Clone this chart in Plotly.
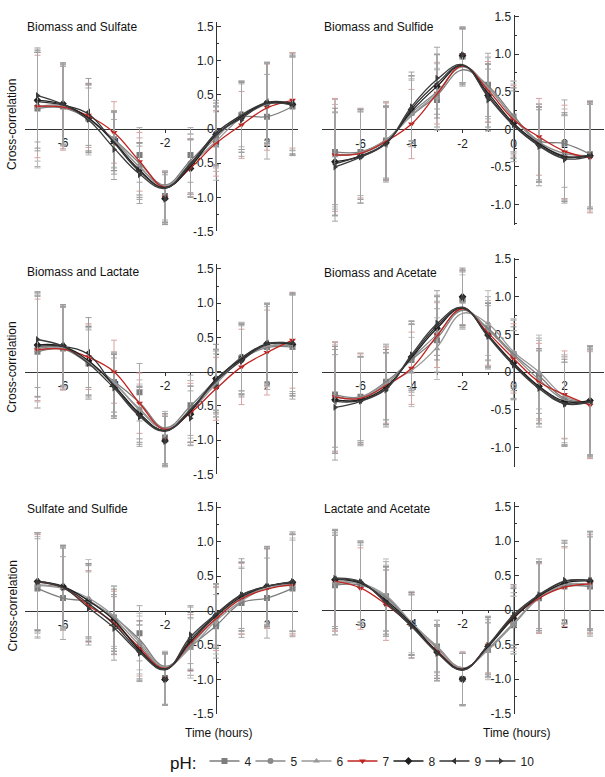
import plotly.graph_objects as go

W, H = 605, 777

LAGS = [-7, -6, -5, -4, -3, -2, -1, 0, 1, 2, 3]
PH_LABELS = ["4", "5", "6", "7", "8", "9", "10"]
X_TICKS = [-6, -4, -2, 0, 2]
X_TICKTEXT = ["-6", "-4", "-2", "0", "2"]
Y_TICKS = [-1.5, -1.0, -0.5, 0, 0.5, 1.0, 1.5]
Y_TICKTEXT = ["-1.5", "-1.0", "-0.5", "0", "0.5", "1.0", "1.5"]

# ---------------- Biomass and Sulfate ----------------
BIO_SO4_VAL = [
    [0.30, 0.33, 0.15, -0.15, -0.38, -0.98, -0.38, -0.12, 0.20, 0.18, 0.33],
    [0.33, 0.35, 0.16, -0.17, -0.55, -0.99, -0.50, -0.15, 0.22, 0.38, 0.37],
    [0.31, 0.34, 0.14, -0.16, -0.58, -0.97, -0.52, -0.25, 0.18, 0.37, 0.38],
    [0.33, 0.32, 0.20, -0.05, -0.48, -1.00, -0.55, -0.21, 0.06, 0.32, 0.42],
    [0.42, 0.37, 0.16, -0.18, -0.60, -1.02, -0.58, -0.08, 0.17, 0.38, 0.36],
    [0.40, 0.35, 0.25, -0.20, -0.62, -1.00, -0.55, -0.05, 0.20, 0.40, 0.38],
    [0.49, 0.36, 0.14, -0.30, -0.67, -1.03, -0.57, -0.10, 0.13, 0.37, 0.35],
]
BIO_SO4_FIT = [
    [0.30, 0.31, 0.14, -0.15, -0.50, -0.82, -0.46, -0.10, 0.17, 0.18, 0.33],
    [0.33, 0.34, 0.16, -0.17, -0.55, -0.84, -0.50, -0.13, 0.21, 0.37, 0.37],
    [0.31, 0.33, 0.14, -0.16, -0.56, -0.83, -0.52, -0.18, 0.17, 0.36, 0.38],
    [0.33, 0.32, 0.19, -0.05, -0.47, -0.85, -0.57, -0.21, 0.06, 0.31, 0.42],
    [0.42, 0.36, 0.16, -0.19, -0.60, -0.86, -0.55, -0.09, 0.18, 0.38, 0.36],
    [0.40, 0.35, 0.22, -0.20, -0.62, -0.86, -0.52, -0.06, 0.20, 0.39, 0.38],
    [0.49, 0.36, 0.13, -0.28, -0.66, -0.87, -0.50, -0.08, 0.16, 0.37, 0.35],
]
BIO_SO4_ERR = [
    [0.85, 0.62, 0.50, 0.42, 0.40, 0.37, 0.40, 0.45, 0.50, 0.62, 0.72],
    [0.80, 0.60, 0.48, 0.44, 0.42, 0.38, 0.43, 0.47, 0.48, 0.58, 0.75],
    [0.88, 0.58, 0.52, 0.40, 0.38, 0.36, 0.44, 0.50, 0.52, 0.60, 0.70],
    [0.75, 0.63, 0.47, 0.45, 0.43, 0.37, 0.41, 0.48, 0.49, 0.63, 0.70],
    [0.70, 0.60, 0.50, 0.43, 0.40, 0.38, 0.42, 0.46, 0.51, 0.59, 0.74],
    [0.72, 0.57, 0.49, 0.46, 0.41, 0.37, 0.40, 0.47, 0.50, 0.57, 0.69],
    [0.68, 0.59, 0.46, 0.44, 0.42, 0.36, 0.42, 0.44, 0.53, 0.61, 0.71],
]

# ---------------- Biomass and Sulfide ----------------
BIO_HS_VAL = [
    [-0.30, -0.30, -0.15, 0.22, 0.39, 0.97, 0.59, 0.17, -0.17, -0.19, -0.33],
    [-0.33, -0.33, -0.17, 0.24, 0.45, 0.96, 0.55, 0.15, -0.18, -0.33, -0.35],
    [-0.35, -0.31, -0.14, 0.21, 0.42, 0.95, 0.52, 0.16, -0.20, -0.36, -0.36],
    [-0.34, -0.32, -0.16, 0.07, 0.48, 0.99, 0.50, 0.12, -0.10, -0.30, -0.38],
    [-0.43, -0.36, -0.18, 0.26, 0.57, 0.98, 0.45, 0.08, -0.20, -0.37, -0.35],
    [-0.46, -0.35, -0.20, 0.28, 0.60, 0.97, 0.42, 0.07, -0.22, -0.38, -0.34],
    [-0.50, -0.37, -0.19, 0.30, 0.68, 0.99, 0.39, 0.06, -0.23, -0.40, -0.36],
]
BIO_HS_FIT = [
    [-0.30, -0.30, -0.14, 0.18, 0.45, 0.79, 0.58, 0.18, -0.15, -0.19, -0.33],
    [-0.33, -0.32, -0.16, 0.22, 0.50, 0.83, 0.56, 0.15, -0.17, -0.32, -0.35],
    [-0.35, -0.31, -0.14, 0.19, 0.48, 0.84, 0.55, 0.15, -0.19, -0.35, -0.36],
    [-0.34, -0.32, -0.16, 0.07, 0.47, 0.84, 0.52, 0.13, -0.10, -0.29, -0.38],
    [-0.43, -0.36, -0.18, 0.24, 0.57, 0.85, 0.48, 0.08, -0.19, -0.36, -0.35],
    [-0.46, -0.35, -0.19, 0.27, 0.61, 0.85, 0.45, 0.06, -0.21, -0.37, -0.34],
    [-0.50, -0.37, -0.19, 0.30, 0.66, 0.86, 0.43, 0.05, -0.22, -0.39, -0.36],
]
BIO_HS_ERR = [
    [0.70, 0.58, 0.50, 0.45, 0.40, 0.36, 0.42, 0.47, 0.50, 0.58, 0.70],
    [0.73, 0.60, 0.48, 0.47, 0.42, 0.37, 0.41, 0.45, 0.52, 0.60, 0.72],
    [0.68, 0.57, 0.51, 0.44, 0.39, 0.38, 0.43, 0.48, 0.49, 0.56, 0.74],
    [0.75, 0.59, 0.52, 0.46, 0.41, 0.37, 0.40, 0.46, 0.51, 0.62, 0.73],
    [0.71, 0.62, 0.49, 0.45, 0.42, 0.36, 0.42, 0.47, 0.50, 0.59, 0.70],
    [0.69, 0.58, 0.50, 0.43, 0.40, 0.38, 0.44, 0.44, 0.48, 0.57, 0.71],
    [0.72, 0.61, 0.48, 0.46, 0.41, 0.37, 0.41, 0.49, 0.52, 0.58, 0.69],
]

# ---------------- Biomass and Lactate ----------------
BIO_LAC_VAL = [
    [0.29, 0.34, 0.12, -0.15, -0.30, -0.96, -0.49, -0.12, 0.20, 0.36, 0.36],
    [0.34, 0.36, 0.15, -0.18, -0.55, -0.98, -0.55, -0.15, 0.22, 0.38, 0.38],
    [0.31, 0.35, 0.14, -0.16, -0.58, -0.97, -0.58, -0.18, 0.18, 0.37, 0.40],
    [0.32, 0.34, 0.22, 0.00, -0.46, -1.00, -0.60, -0.25, 0.07, 0.28, 0.46],
    [0.39, 0.38, 0.16, -0.20, -0.62, -1.01, -0.62, -0.10, 0.18, 0.41, 0.40],
    [0.37, 0.38, 0.28, -0.21, -0.64, -0.99, -0.64, -0.12, 0.21, 0.42, 0.41],
    [0.47, 0.37, 0.12, -0.24, -0.66, -1.02, -0.68, -0.20, 0.15, 0.40, 0.42],
]
BIO_LAC_FIT = [
    [0.29, 0.33, 0.12, -0.14, -0.45, -0.82, -0.50, -0.12, 0.19, 0.35, 0.36],
    [0.34, 0.35, 0.15, -0.17, -0.54, -0.84, -0.55, -0.15, 0.21, 0.37, 0.38],
    [0.31, 0.34, 0.14, -0.15, -0.56, -0.83, -0.57, -0.18, 0.18, 0.37, 0.40],
    [0.32, 0.33, 0.21, 0.00, -0.46, -0.84, -0.60, -0.25, 0.07, 0.28, 0.46],
    [0.39, 0.37, 0.16, -0.20, -0.61, -0.86, -0.58, -0.11, 0.18, 0.40, 0.40],
    [0.37, 0.37, 0.25, -0.21, -0.63, -0.86, -0.56, -0.12, 0.20, 0.41, 0.41],
    [0.47, 0.37, 0.12, -0.24, -0.65, -0.87, -0.55, -0.14, 0.16, 0.40, 0.42],
]
BIO_LAC_ERR = [
    [0.82, 0.60, 0.52, 0.44, 0.42, 0.38, 0.44, 0.45, 0.52, 0.62, 0.76],
    [0.78, 0.62, 0.50, 0.46, 0.43, 0.37, 0.42, 0.47, 0.50, 0.60, 0.74],
    [0.84, 0.59, 0.54, 0.43, 0.40, 0.39, 0.45, 0.48, 0.53, 0.58, 0.72],
    [0.74, 0.61, 0.48, 0.46, 0.44, 0.38, 0.43, 0.46, 0.55, 0.62, 0.70],
    [0.76, 0.58, 0.50, 0.45, 0.41, 0.36, 0.41, 0.50, 0.51, 0.59, 0.75],
    [0.73, 0.60, 0.51, 0.47, 0.42, 0.38, 0.43, 0.44, 0.49, 0.57, 0.73],
    [0.70, 0.57, 0.49, 0.44, 0.43, 0.37, 0.40, 0.46, 0.52, 0.60, 0.71],
]

# ---------------- Biomass and Acetate ----------------
BIO_ACE_VAL = [
    [-0.30, -0.33, -0.13, 0.16, 0.42, 0.96, 0.58, 0.24, -0.05, -0.37, -0.40],
    [-0.33, -0.35, -0.16, 0.18, 0.50, 0.95, 0.55, 0.22, -0.10, -0.38, -0.41],
    [-0.32, -0.34, -0.15, 0.00, 0.31, 0.93, 0.65, 0.27, 0.00, -0.33, -0.42],
    [-0.33, -0.36, -0.18, 0.05, 0.49, 0.99, 0.50, 0.18, -0.13, -0.30, -0.44],
    [-0.37, -0.37, -0.20, 0.20, 0.58, 1.00, 0.49, 0.12, -0.19, -0.40, -0.38],
    [-0.39, -0.38, -0.22, 0.21, 0.62, 0.98, 0.48, 0.10, -0.20, -0.42, -0.39],
    [-0.47, -0.39, -0.24, 0.23, 0.65, 0.99, 0.47, 0.09, -0.22, -0.43, -0.40],
]
BIO_ACE_FIT = [
    [-0.30, -0.33, -0.13, 0.16, 0.45, 0.82, 0.58, 0.24, -0.05, -0.35, -0.40],
    [-0.33, -0.35, -0.16, 0.18, 0.50, 0.83, 0.56, 0.22, -0.10, -0.37, -0.41],
    [-0.32, -0.34, -0.15, 0.02, 0.33, 0.78, 0.64, 0.27, 0.00, -0.32, -0.42],
    [-0.33, -0.35, -0.18, 0.05, 0.48, 0.84, 0.52, 0.18, -0.13, -0.30, -0.44],
    [-0.37, -0.37, -0.20, 0.19, 0.58, 0.85, 0.49, 0.12, -0.19, -0.39, -0.38],
    [-0.39, -0.38, -0.22, 0.21, 0.61, 0.85, 0.48, 0.10, -0.20, -0.41, -0.39],
    [-0.47, -0.39, -0.23, 0.23, 0.64, 0.86, 0.47, 0.09, -0.22, -0.42, -0.40],
]
BIO_ACE_ERR = [
    [0.70, 0.58, 0.50, 0.47, 0.42, 0.37, 0.42, 0.45, 0.50, 0.57, 0.72],
    [0.72, 0.56, 0.52, 0.45, 0.44, 0.38, 0.40, 0.47, 0.52, 0.59, 0.70],
    [0.68, 0.59, 0.49, 0.46, 0.41, 0.36, 0.43, 0.44, 0.49, 0.56, 0.73],
    [0.73, 0.60, 0.51, 0.48, 0.43, 0.37, 0.41, 0.46, 0.51, 0.58, 0.71],
    [0.71, 0.57, 0.50, 0.44, 0.42, 0.38, 0.42, 0.48, 0.50, 0.57, 0.72],
    [0.69, 0.58, 0.48, 0.46, 0.40, 0.37, 0.44, 0.45, 0.48, 0.55, 0.74],
    [0.70, 0.59, 0.49, 0.45, 0.43, 0.36, 0.41, 0.46, 0.51, 0.56, 0.70],
]

# ---------------- Sulfate and Sulfide ----------------
SO4_HS_VAL = [
    [0.32, 0.18, 0.12, -0.10, -0.33, -0.98, -0.52, -0.23, 0.11, 0.18, 0.32],
    [0.37, 0.33, 0.15, -0.12, -0.50, -0.99, -0.50, -0.10, 0.18, 0.34, 0.38],
    [0.36, 0.32, 0.18, -0.08, -0.45, -0.98, -0.55, -0.15, 0.14, 0.33, 0.36],
    [0.41, 0.33, 0.06, -0.18, -0.55, -0.99, -0.47, -0.12, 0.17, 0.32, 0.37],
    [0.42, 0.35, 0.14, -0.14, -0.58, -1.00, -0.45, -0.08, 0.20, 0.35, 0.41],
    [0.42, 0.34, 0.10, -0.20, -0.60, -0.99, -0.40, -0.06, 0.22, 0.35, 0.40],
    [0.41, 0.33, 0.03, -0.26, -0.62, -1.00, -0.35, -0.07, 0.23, 0.35, 0.42],
]
SO4_HS_FIT = [
    [0.32, 0.18, 0.12, -0.10, -0.42, -0.81, -0.52, -0.22, 0.11, 0.18, 0.32],
    [0.37, 0.33, 0.15, -0.12, -0.50, -0.83, -0.50, -0.11, 0.18, 0.33, 0.38],
    [0.36, 0.32, 0.18, -0.08, -0.46, -0.82, -0.54, -0.15, 0.14, 0.33, 0.36],
    [0.41, 0.33, 0.07, -0.18, -0.54, -0.84, -0.47, -0.12, 0.17, 0.31, 0.37],
    [0.42, 0.35, 0.14, -0.14, -0.57, -0.85, -0.45, -0.08, 0.20, 0.35, 0.41],
    [0.42, 0.34, 0.10, -0.20, -0.59, -0.85, -0.42, -0.06, 0.22, 0.35, 0.40],
    [0.41, 0.33, 0.04, -0.25, -0.61, -0.86, -0.38, -0.05, 0.23, 0.35, 0.42],
]
SO4_HS_ERR = [
    [0.72, 0.60, 0.55, 0.45, 0.40, 0.38, 0.42, 0.46, 0.50, 0.58, 0.70],
    [0.70, 0.62, 0.53, 0.47, 0.42, 0.37, 0.44, 0.45, 0.52, 0.56, 0.72],
    [0.74, 0.58, 0.56, 0.44, 0.41, 0.39, 0.43, 0.48, 0.49, 0.59, 0.69],
    [0.69, 0.61, 0.52, 0.46, 0.40, 0.38, 0.41, 0.46, 0.51, 0.57, 0.73],
    [0.71, 0.59, 0.54, 0.45, 0.43, 0.37, 0.42, 0.47, 0.50, 0.58, 0.71],
    [0.70, 0.57, 0.55, 0.43, 0.39, 0.38, 0.45, 0.44, 0.48, 0.55, 0.70],
    [0.72, 0.60, 0.53, 0.46, 0.41, 0.37, 0.42, 0.46, 0.52, 0.57, 0.72],
]

# ---------------- Lactate and Acetate ----------------
LAC_ACE_VAL = [
    [0.36, 0.36, 0.20, -0.20, -0.53, -1.00, -0.58, -0.22, 0.17, 0.34, 0.34],
    [0.38, 0.38, 0.17, -0.19, -0.55, -1.00, -0.56, -0.19, 0.18, 0.36, 0.36],
    [0.40, 0.40, 0.22, -0.18, -0.52, -0.99, -0.60, -0.20, 0.19, 0.38, 0.37],
    [0.42, 0.31, 0.07, -0.22, -0.60, -1.00, -0.51, -0.10, 0.17, 0.33, 0.38],
    [0.44, 0.39, 0.14, -0.20, -0.61, -1.00, -0.53, -0.12, 0.20, 0.39, 0.42],
    [0.45, 0.40, 0.12, -0.22, -0.62, -1.01, -0.52, -0.09, 0.21, 0.41, 0.43],
    [0.46, 0.41, 0.10, -0.24, -0.63, -1.00, -0.51, -0.07, 0.22, 0.43, 0.43],
]
LAC_ACE_FIT = [
    [0.36, 0.36, 0.19, -0.19, -0.53, -0.84, -0.57, -0.21, 0.17, 0.34, 0.34],
    [0.38, 0.38, 0.17, -0.19, -0.55, -0.85, -0.56, -0.19, 0.18, 0.36, 0.36],
    [0.40, 0.39, 0.21, -0.18, -0.53, -0.84, -0.58, -0.20, 0.18, 0.37, 0.37],
    [0.42, 0.32, 0.08, -0.22, -0.59, -0.86, -0.52, -0.11, 0.17, 0.33, 0.38],
    [0.44, 0.39, 0.14, -0.20, -0.60, -0.86, -0.53, -0.12, 0.20, 0.39, 0.42],
    [0.45, 0.40, 0.12, -0.22, -0.61, -0.87, -0.52, -0.09, 0.21, 0.41, 0.43],
    [0.46, 0.41, 0.10, -0.24, -0.62, -0.87, -0.51, -0.07, 0.22, 0.42, 0.43],
]
LAC_ACE_ERR = [
    [0.72, 0.58, 0.50, 0.45, 0.38, 0.38, 0.40, 0.42, 0.50, 0.58, 0.72],
    [0.74, 0.60, 0.48, 0.46, 0.40, 0.37, 0.42, 0.44, 0.52, 0.56, 0.70],
    [0.70, 0.57, 0.52, 0.44, 0.37, 0.39, 0.41, 0.40, 0.49, 0.59, 0.73],
    [0.73, 0.59, 0.51, 0.47, 0.39, 0.38, 0.40, 0.45, 0.51, 0.57, 0.71],
    [0.71, 0.61, 0.49, 0.45, 0.38, 0.37, 0.43, 0.43, 0.50, 0.58, 0.72],
    [0.72, 0.58, 0.50, 0.44, 0.41, 0.38, 0.41, 0.42, 0.48, 0.60, 0.70],
    [0.70, 0.59, 0.48, 0.46, 0.39, 0.37, 0.42, 0.44, 0.52, 0.57, 0.71],
]

# ---------------- styling ----------------
COLORS = ["#7d7d7d", "#8a8a8a", "#989898", "#c0231f", "#1e1e1e", "#333333", "#3c3c3c"]
ERR_COLORS = ["#a9a9a9", "#b3b3b3", "#bcbcbc", "#d8a3a3", "#8f8f8f", "#9c9c9c", "#a4a4a4"]
SYMBOLS = ["square", "circle", "triangle-up", "triangle-down", "diamond",
           "triangle-left", "triangle-right"]
FONT = "Arial, Liberation Sans, Helvetica, sans-serif"

# panel: (title, values, fitted curve, errors, zero_x_px, x_range, zero_y_px, y px/unit, y_range, title_y_px)
PANELS = [
    ("Biomass and Sulfate", BIO_SO4_VAL, BIO_SO4_FIT, BIO_SO4_ERR, 216.0, [-7.5, 3.2], 129.0, 68.3, [-1.5, 1.57], 27),
    ("Biomass and Sulfide", BIO_HS_VAL, BIO_HS_FIT, BIO_HS_ERR, 513.5, [-7.5, 3.55], 129.3, 75.3, [-1.27, 1.52], 27),
    ("Biomass and Lactate", BIO_LAC_VAL, BIO_LAC_FIT, BIO_LAC_ERR, 216.0, [-7.5, 3.2], 371.7, 68.5, [-1.5, 1.57], 272),
    ("Biomass and Acetate", BIO_ACE_VAL, BIO_ACE_FIT, BIO_ACE_ERR, 513.5, [-7.5, 3.55], 372.0, 75.3, [-1.26, 1.52], 273),
    ("Sulfate and Sulfide", SO4_HS_VAL, SO4_HS_FIT, SO4_HS_ERR, 216.0, [-7.5, 3.2], 610.5, 69.0, [-1.5, 1.57], 509),
    ("Lactate and Acetate", LAC_ACE_VAL, LAC_ACE_FIT, LAC_ACE_ERR, 513.5, [-7.5, 3.55], 610.0, 69.0, [-1.5, 1.57], 509),
]
X_PX_PER_UNIT = 25.5

fig = go.Figure()
layout_axes = {}
annotations = []

for p, (title, vals, fits, errs, zx, xr, zy, ppu, yr, ty) in enumerate(PANELS):
    sfx = "" if p == 0 else str(p + 1)
    xname, yname = "x" + sfx, "y" + sfx
    x0 = zx + xr[0] * X_PX_PER_UNIT
    x1 = zx + xr[1] * X_PX_PER_UNIT
    ytop = zy - yr[1] * ppu
    ybot = zy - yr[0] * ppu
    layout_axes["xaxis" + sfx] = dict(
        domain=[x0 / W, min(x1 / W, 1.0)], range=xr, anchor="free", position=(H - zy) / H,
        tickmode="array", tickvals=X_TICKS, ticktext=X_TICKTEXT,
        ticks="outside", ticklen=3, tickcolor="#333", tickwidth=1,
        minor=dict(tickmode="array", tickvals=[-7, -5, -3, -1, 1, 3], ticks="outside",
                   ticklen=2, tickcolor="#333"),
        showgrid=False, zeroline=False, showline=True, linecolor="#333", linewidth=1,
        layer="below traces", tickfont=dict(family=FONT, size=12, color="#222"),
        fixedrange=True,
    )
    keep = [i for i, v in enumerate(Y_TICKS) if yr[0] - 1e-9 <= v <= yr[1] + 1e-9]
    ymin = [v / 4 for v in range(-6, 7) if v % 2 != 0 and yr[0] <= v / 4 <= yr[1]]
    layout_axes["yaxis" + sfx] = dict(
        domain=[(H - ybot) / H, (H - ytop) / H], range=yr, anchor="free", position=zx / W,
        side="left", tickmode="array", tickvals=[Y_TICKS[i] for i in keep],
        ticktext=[Y_TICKTEXT[i] for i in keep],
        ticks="inside", ticklen=4, tickcolor="#333", tickwidth=1,
        minor=dict(tickmode="array", tickvals=ymin, ticks="inside", ticklen=2, tickcolor="#333"),
        showgrid=False, zeroline=False, showline=True, linecolor="#333", linewidth=1,
        layer="below traces", tickfont=dict(family=FONT, size=12, color="#222"),
        fixedrange=True,
    )
    # error bars + markers
    for s in range(7):
        fig.add_trace(go.Scatter(
            x=LAGS, y=vals[s], mode="markers", xaxis=xname, yaxis=yname,
            marker=dict(symbol=SYMBOLS[s], size=6, color=COLORS[s]),
            error_y=dict(type="data", array=errs[s], color=ERR_COLORS[s], thickness=1, width=3),
            showlegend=False, hoverinfo="skip", legendgroup=PH_LABELS[s],
        ))
    # fitted curves
    for s in range(7):
        fig.add_trace(go.Scatter(
            x=LAGS, y=fits[s], mode="lines", xaxis=xname, yaxis=yname,
            line=dict(color=COLORS[s], width=1.3, shape="spline", smoothing=1.15),
            showlegend=False, hoverinfo="skip", legendgroup=PH_LABELS[s],
        ))
    tx = 25 if p % 2 == 0 else 322
    annotations.append(dict(text=title, x=tx / W, y=(H - ty) / H, xref="paper", yref="paper",
                            xanchor="left", yanchor="middle", showarrow=False,
                            font=dict(family=FONT, size=12, color="#111")))
    if p % 2 == 0:
        annotations.append(dict(text="Cross-correlation", x=12 / W, y=(H - (zy - 4)) / H,
                                xref="paper", yref="paper", textangle=-90, showarrow=False,
                                xanchor="center", yanchor="middle",
                                font=dict(family=FONT, size=12, color="#111")))
    if p >= 4:
        annotations.append(dict(text="Time (hours)", x=(zx + 3) / W, y=(H - 733) / H,
                                xref="paper", yref="paper", showarrow=False,
                                xanchor="center", yanchor="middle",
                                font=dict(family=FONT, size=12, color="#111")))

# legend entries
LEGEND_TEXT_W = [1, 1, 1, 1, 1, 1, 14]
for s in range(7):
    fig.add_trace(go.Scatter(
        x=[None], y=[None], mode="lines+markers", name=PH_LABELS[s],
        line=dict(color=COLORS[s], width=1.4),
        marker=dict(symbol=SYMBOLS[s], size=6, color=COLORS[s]),
        legendgroup=PH_LABELS[s], showlegend=True, legendwidth=LEGEND_TEXT_W[s],
    ))

fig.update_layout(
    width=W, height=H, margin=dict(l=0, r=0, t=0, b=0, autoexpand=False),
    paper_bgcolor="white", plot_bgcolor="white",
    font=dict(family=FONT, size=12, color="#222"),
    annotations=annotations,
    showlegend=True,
    legend=dict(orientation="h", x=168 / W, xanchor="left", y=(H - 763) / H, yanchor="middle",
                title=dict(text="pH:", side="left", font=dict(family=FONT, size=17, color="#111")),
                font=dict(family=FONT, size=12, color="#222"),
                itemclick=False, itemdoubleclick=False, bgcolor="rgba(0,0,0,0)"),
    **layout_axes,
)

fig.write_html("out.html", config={"displayModeBar": False},
               post_script="document.body.style.margin='0';document.body.style.overflow='hidden';")
